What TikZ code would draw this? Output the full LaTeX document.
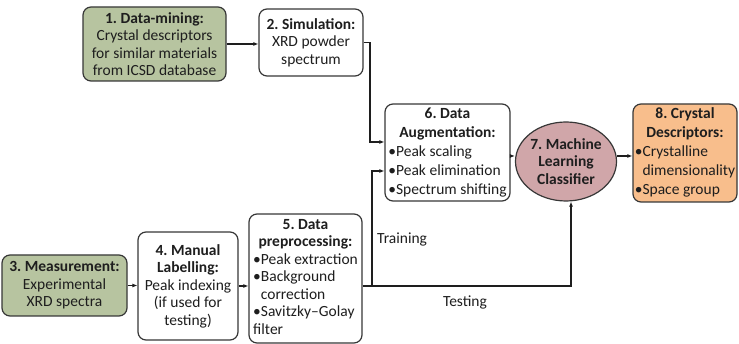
\documentclass[tikz,border=0pt]{standalone}
\usepackage{fontspec}
\setmainfont{Carlito}
\usetikzlibrary{shapes.geometric,arrows.meta}
\definecolor{sage}{RGB}{183,196,160}
\definecolor{mauve}{RGB}{208,166,169}
\definecolor{peach}{RGB}{248,190,140}
\definecolor{edgec}{RGB}{55,55,55}
\definecolor{txt}{RGB}{30,30,30}
\setlength{\parindent}{0pt}
\frenchspacing
\newcommand{\hd}[1]{\multicolumn{1}{@{}c@{}}{\textbf{#1}}}
\begin{document}
\begin{tikzpicture}[x=1pt,y=-1pt,
  basebox/.style={draw=edgec,line width=1.2pt,rounded corners=8pt,inner sep=1pt,
    font=\fontsize{15.5}{17.5}\selectfont,text=txt},
  box/.style={basebox,align=center},
  listbox/.style={basebox},
  conn/.style={line width=1.1pt,draw=txt,-{Latex[length=5pt,width=4pt]}},
  lbl/.style={font=\fontsize{15.5}{17.5}\selectfont,text=txt,inner sep=0pt}
]
\useasboundingbox (0,0) rectangle (739,344);

\node[box,fill=sage,minimum width=143pt,minimum height=74pt] (b1) at (154.5,44)
  {\textbf{1. Data-mining:}\\Crystal descriptors\\for similar materials\\from ICSD database};
\node[box,fill=white,minimum width=104pt,minimum height=67pt] (b2) at (311,42.5)
  {\textbf{2. Simulation:}\\XRD powder\\spectrum};
\node[box,fill=sage,minimum width=125pt,minimum height=61pt] (b3) at (64.5,285.5)
  {\textbf{3. Measurement:}\\Experimental\\XRD spectra};
\node[box,fill=white,minimum width=100pt,minimum height=108pt] (b4) at (188,286)
  {\textbf{4. Manual}\\\textbf{Labelling:}\\Peak indexing\\(if used for\\testing)};
\node[listbox,fill=white,minimum width=113pt,minimum height=129pt] (b5) at (305.5,278.5)
  {\begin{tabular}{@{}l@{}}\hd{5. Data}\\\hd{preprocessing:}\\
   •Peak extraction\\•Background\\\hphantom{•}correction\\•Savitzky–Golay\\filter\end{tabular}};
\node[listbox,fill=white,minimum width=125pt,minimum height=97pt,
  font=\fontsize{15.5}{19}\selectfont] (b6) at (447.5,152.5)
  {\begin{tabular}{@{}l@{}}\hd{6. Data}\\\hd{Augmentation:}\\
   •Peak scaling\\•Peak elimination\\•Spectrum shifting\end{tabular}};
\node[box,ellipse,fill=mauve,minimum width=84pt,minimum height=79pt,inner sep=0pt] (b7) at (566,161.5)
  {\textbf{7. Machine}\\\textbf{Learning}\\\textbf{Classifier}};
\node[listbox,fill=peach,minimum width=104pt,minimum height=98pt,
  font=\fontsize{15.5}{19}\selectfont] (b8) at (685,153)
  {\begin{tabular}{@{}l@{}}\hd{8. Crystal}\\\hd{Descriptors:}\\
   •Crystalline\\\hphantom{•}dimensionality\\•Space group\end{tabular}};

\coordinate (t1) at (370,142);
\coordinate (tl) at (0,286);
\coordinate (t2) at (571,286);
\coordinate (t3) at (372,286);
\coordinate (t4) at (372,171);
\coordinate (m) at (0,156);

\draw[conn] (b1.east) -- (b1.east -| b2.west);
\draw[conn] (b2.east) -| (t1) -- (t1 -| b6.west);
\draw[conn] (b3.east) -- (b3.east -| b4.west);
\draw[conn] (b4.east |- tl) -- (b5.west |- tl);
\draw[conn] (b5.east |- tl) -- (t2) -- (t2 |- b7.south);
\draw[conn] (t3) -- (t4) -- (t4 -| b6.west);
\draw[conn] (b6.east |- m) -- (b7.west |- m);
\draw[conn] (b7.east |- m) -- (b8.west |- m);

\node[lbl,anchor=west] (tr) at (377,240) {Training};
\node[lbl] (te) at (465,302) {Testing};
\end{tikzpicture}
\end{document}
